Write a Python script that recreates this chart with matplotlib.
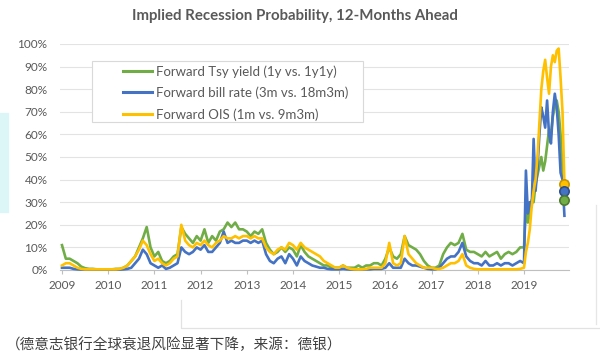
import numpy as np
import matplotlib.pyplot as plt
from matplotlib.lines import Line2D
from matplotlib.patches import Rectangle

# x positions: monthly Jan 2009 - Dec 2018, then half-monthly through 2019
months = np.arange(120)
half_months = np.arange(22)
x_years = np.concatenate([2009 + months / 12, 2019 + half_months / 24])

# Implied recession probability (%)
tsy_yield = [
    11, 5, 5, 4, 3, 1.5, 0.8, 0.5, 0.5, 0.3, 0.3, 0.3,       # 2009
    0.3, 0.3, 0.5, 0.5, 1, 2, 4, 6, 10, 14, 19, 10,         # 2010
    6, 8, 4, 3, 4, 6, 7, 19, 16, 14, 12, 15,                # 2011
    13, 18, 12, 15, 13, 17, 18, 21, 19, 21, 18, 18,         # 2012
    17, 15, 17, 16, 18, 12, 9, 7, 8, 10, 8, 10,             # 2013
    9, 6, 11, 8, 6, 5, 4, 3, 2, 2, 1, 1,                    # 2014
    1, 2, 1, 1, 1, 2, 1, 2, 2, 3, 3, 2,                     # 2015
    5, 10, 6, 5, 7, 15, 11, 10, 9, 7, 4, 2,                 # 2016
    1, 1, 2, 7, 10, 12, 11, 12, 16, 9, 8, 8,                # 2017
    7, 6, 8, 6, 7, 8, 5, 7, 8, 7, 8, 10,                    # 2018
    10, 28, 21, 25, 31, 30, 38, 42, 46, 50, 44,             # 2019 (half-monthly)
    48, 55, 62, 60, 68, 72, 75, 70, 60, 45, 31,
]
bill_rate = [
    1, 1, 1, 0.5, 0.3, 0.2, 0.2, 0.2, 0.2, 0.2, 0.2, 0.2,
    0.2, 0.2, 0.2, 0.2, 0.3, 0.5, 1, 3, 5, 9, 7, 3,
    2, 1, 2, 0.5, 1, 2, 3, 10, 8, 7, 8, 10,
    9, 11, 8, 8, 10, 12, 17, 12, 13, 12, 12, 13,
    13, 12, 13, 12, 13, 7, 4, 3, 5, 6, 3, 7,
    5, 2, 6, 4, 3, 2, 1.5, 1, 1, 0.5, 0.3, 0.3,
    0.3, 0.5, 0.3, 0.2, 0.2, 0.3, 0.2, 0.3, 0.3, 0.5, 0.5, 0.5,
    1, 3, 1, 1, 1, 5, 3, 2, 2, 1.5, 1, 0.5,
    0.3, 0.3, 1, 3, 5, 6, 6, 8, 12, 6, 4, 3,
    3, 2, 4, 2, 2, 3, 2, 3, 3, 2, 3, 4,
    3, 44, 25, 30, 28, 58, 35, 45, 60, 72, 68,
    63, 75, 60, 56, 70, 78, 72, 60, 43, 40, 24,
]
ois = [
    2, 3, 3, 2, 1, 0.5, 0.3, 0.3, 0.3, 0.3, 0.3, 0.3,
    0.3, 0.3, 0.3, 0.5, 1, 2, 4, 6, 9, 13, 11, 7,
    4, 5, 3, 2, 3, 5, 6, 20, 13, 11, 10, 12,
    11, 13, 11, 10, 12, 13, 15, 14, 14, 15, 14, 15,
    15, 14, 15, 14, 14, 10, 8, 7, 9, 10, 9, 12,
    11, 9, 12, 10, 9, 8, 7, 6, 4, 3, 2, 1,
    1, 2, 1, 0.5, 0.3, 0.3, 0.3, 0.5, 1, 1, 1, 1,
    3, 12, 3, 2, 3, 15, 7, 5, 3, 2, 1, 1,
    1, 0.5, 0.5, 1, 2, 3, 3, 4, 7, 2, 1, 0.5,
    0.3, 0.3, 0.3, 0.3, 0.3, 0.3, 0.3, 0.3, 0.3, 0.3, 0.3, 0.5,
    1, 8, 12, 18, 28, 35, 40, 50, 65, 80, 88,
    93, 85, 78, 90, 95, 92, 97, 98, 85, 70, 38,
]

# latest readings highlighted with dots
latest = {"ois": 38, "bill": 35, "tsy": 31}

labels = [
    "Forward Tsy yield (1y vs. 1y1y)",
    "Forward bill rate (3m vs. 18m3m)",
    "Forward OIS (1m vs. 9m3m)",
]
years = list(range(2009, 2020))
y_ticks = list(range(0, 101, 10))

GREEN = "#70ad47"
BLUE = "#4472c4"
YELLOW = "#ffc000"
TEXT = "#595959"

plt.rcParams["font.family"] = ["Lato", "DejaVu Sans"]

fig = plt.figure(figsize=(6, 3.61), dpi=100)
ax = fig.add_axes([60 / 600, 1 - 270 / 361, 509 / 600, 226 / 361])

for series, color in [(tsy_yield, GREEN), (bill_rate, BLUE), (ois, YELLOW)]:
    ax.plot(x_years, series, color=color, lw=1.9, clip_on=False,
            solid_joinstyle="round", zorder=3)

end_x = x_years[-1]
for key, color, edge in [("ois", YELLOW, "#c99700"), ("bill", BLUE, "#2f4f8a"),
                         ("tsy", GREEN, "#4e7a31")]:
    ax.scatter([end_x], [latest[key]], s=45, color=color, edgecolor=edge,
               linewidth=1.2, zorder=5, clip_on=False)

ax.set_xlim(2008.957, 2019.974)
ax.set_ylim(0, 100)
ax.set_yticks(y_ticks)
ax.set_yticklabels([f"{v}%" for v in y_ticks])
ax.set_xticks(years)
ax.set_xticklabels([str(y) for y in years])
ax.tick_params(axis="y", length=0, pad=9, labelsize=8.5, labelcolor=TEXT)
ax.tick_params(axis="x", length=3, pad=4, labelsize=8.5, labelcolor=TEXT,
               color="#bfbfbf")
ax.grid(axis="y", color="#e3e3e3", lw=0.8)
ax.set_axisbelow(True)
for side in ["left", "right", "top"]:
    ax.spines[side].set_visible(False)
ax.spines["bottom"].set_color("#bfbfbf")

# legend box drawn separately so the entries can sit inset like the original
ax.add_patch(Rectangle((92 / 600, 1 - 122 / 361), 271 / 600, 61 / 361,
                       transform=fig.transFigure, facecolor="white",
                       edgecolor="#d9d9d9", lw=0.8, zorder=4, clip_on=False))
handles = [Line2D([], [], color=c, lw=2.2) for c in (GREEN, BLUE, YELLOW)]
leg = ax.legend(handles, labels, loc="upper left",
                bbox_to_anchor=(123 / 600, 1 - 65 / 361), bbox_transform=fig.transFigure,
                borderaxespad=0, frameon=False, fontsize=9.5,
                handlelength=2.2, handletextpad=0.3, labelspacing=0.68,
                borderpad=0, labelcolor=TEXT)
leg.set_zorder(6)

fig.text(295 / 600, 1 - 16 / 361, "Implied Recession Probability, 12-Months Ahead",
         ha="center", va="center", fontsize=10.8, fontweight="bold", color=TEXT)

fig.text(6 / 600, 1 - 345 / 361, "（德意志银行全球衰退风险显著下降，来源：德银）",
         ha="left", va="center", fontsize=10.5, color="#404040",
         family=["Noto Sans CJK SC", "DejaVu Sans"])

# screenshot leftovers around the chart
fig.patches.append(Rectangle((0, 1 - 212 / 361), 8 / 600, 99 / 361,
                             transform=fig.transFigure, color="#dcf6f8", zorder=0))
fig.add_artist(Line2D([181 / 600, 181 / 600, 600 / 600], [1 - 300 / 361, 1 - 328 / 361, 1 - 328 / 361],
                      transform=fig.transFigure, color="#e2e2e2", lw=0.9))
fig.add_artist(Line2D([596 / 600, 596 / 600], [1 - 205 / 361, 1 - 324 / 361],
                      transform=fig.transFigure, color="#e6e6e6", lw=0.9))

fig.savefig("out.png", dpi=100)
